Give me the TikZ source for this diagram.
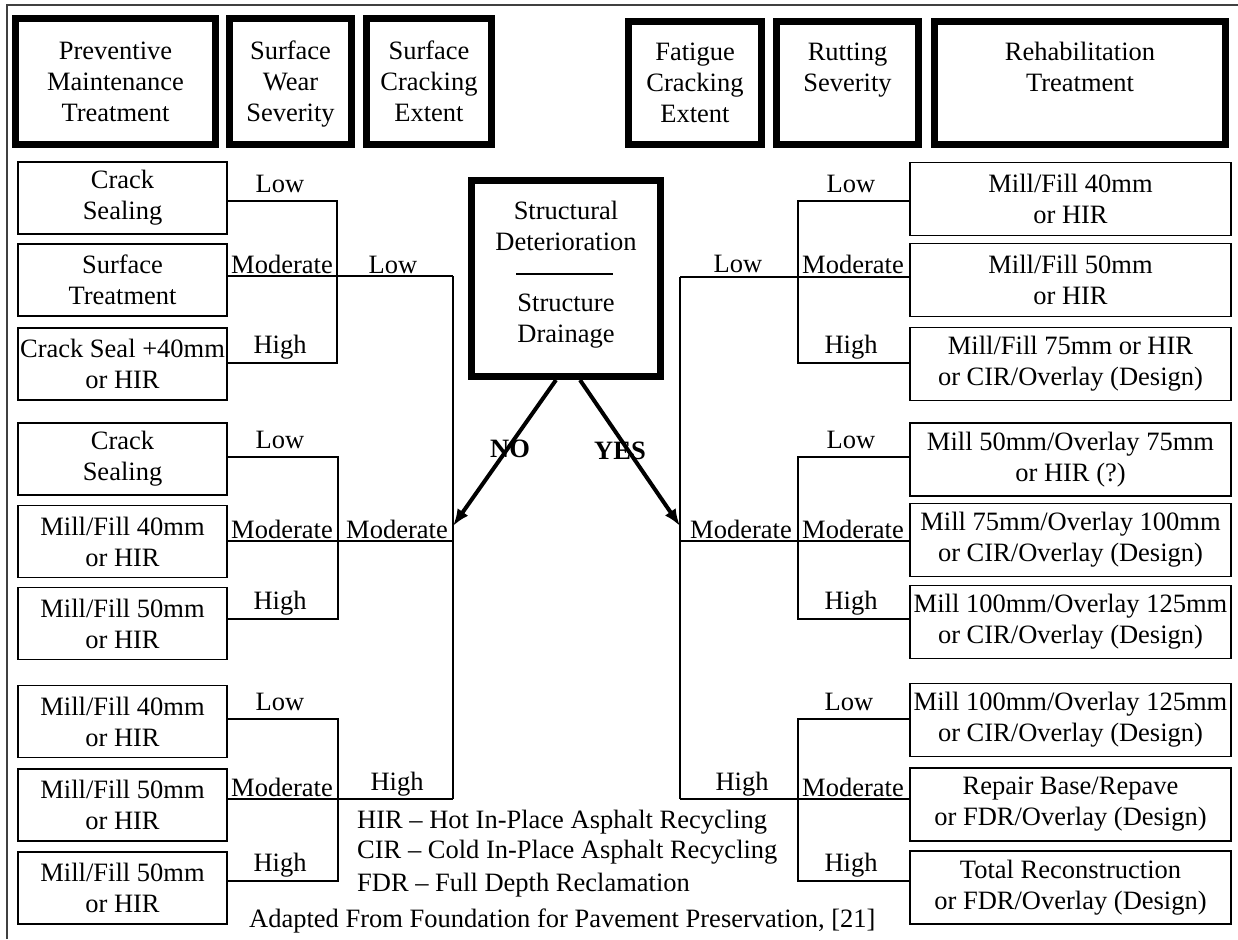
\documentclass[tikz,border=0pt]{standalone}
\usepackage{fontspec}
\setmainfont{Liberation Serif}
\usetikzlibrary{arrows.meta}
\newcommand{\mainsize}{\fontsize{26.5}{31}\selectfont}
\tikzset{
  hdrbox/.style={draw, line width=7pt, inner sep=0pt},
  hdrtext/.style={anchor=north, align=center, inner sep=0pt, font=\mainsize},
  tbox/.style={draw, line width=1.8pt, align=center, inner xsep=1pt, inner ysep=0pt, font=\mainsize},
  lbox/.style={tbox, minimum width=209, minimum height=72},
  rbox/.style={tbox, minimum width=321, minimum height=73},
  lbl/.style={anchor=base, inner sep=0pt, font=\mainsize},
  lgd/.style={anchor=base west, inner sep=0pt, font=\mainsize},
  bl/.style={anchor=base, inner sep=0pt, font=\mainsize\bfseries},
  conn/.style={line width=1.8pt},
  arr/.style={line width=4pt, -{Latex[length=17pt,width=13pt]}},
  border/.style={line width=2pt, black!75},
}
\begin{document}
\begin{tikzpicture}[x=1pt,y=-1pt]
\useasboundingbox (0,0) rectangle (1238,939);
\draw[border] (7,939) -- (7,5) -- (1238,5);

% header boxes
\node[hdrbox, minimum width=200, minimum height=126] (hPM) at (115.5,81.5) {};
\node[hdrtext] (hPMt) at (115.5,37.3) {\strut Preventive\\Maintenance\\Treatment};
\node[hdrbox, minimum width=122, minimum height=126] (hSW) at (290.5,81.5) {};
\node[hdrtext] (hSWt) at (290.5,37.3) {\strut Surface\\Wear\\Severity};
\node[hdrbox, minimum width=125, minimum height=126] (hSC) at (429,81.5) {};
\node[hdrtext] (hSCt) at (429,37.3) {\strut Surface\\Cracking\\Extent};
\node[hdrbox, minimum width=133, minimum height=123] (hFC) at (695,83) {};
\node[hdrtext] (hFCt) at (695,38.8) {\strut Fatigue\\Cracking\\Extent};
\node[hdrbox, minimum width=142, minimum height=123] (hRS) at (847.5,83) {};
\node[hdrtext] (hRSt) at (847.5,38.8) {\strut Rutting\\Severity};
\node[hdrbox, minimum width=291, minimum height=123] (hRT) at (1080,83) {};
\node[hdrtext] (hRTt) at (1080,38.8) {\strut Rehabilitation\\Treatment};

% central box
\node[hdrbox, minimum width=189, minimum height=196] (sd) at (566,278.5) {};
\node[hdrtext] (sdt1) at (566,197.3) {\strut Structural\\Deterioration};
\node[hdrtext] (sdt2) at (566,289.3) {\strut Structure\\Drainage};
\draw[conn] (516,274) -- (613,274);

% left boxes
\node[lbox] (L1a) at (122.5,198) {Crack\\Sealing};
\node[lbox] (L1b) at (122.5,280) {Surface\\Treatment};
\node[lbox] (L1c) at (122.5,364) {Crack Seal +40mm\\or HIR};
\node[lbox] (L2a) at (122.5,459) {Crack\\Sealing};
\node[lbox] (L2b) at (122.5,541.5) {Mill/Fill 40mm\\or HIR};
\node[lbox] (L2c) at (122.5,623.5) {Mill/Fill 50mm\\or HIR};
\node[lbox] (L3a) at (122.5,721.5) {Mill/Fill 40mm\\or HIR};
\node[lbox] (L3b) at (122.5,805) {Mill/Fill 50mm\\or HIR};
\node[lbox] (L3c) at (122.5,888) {Mill/Fill 50mm\\or HIR};

% right boxes
\node[rbox] (R1a) at (1070.5,199) {Mill/Fill 40mm\\or HIR};
\node[rbox] (R1b) at (1070.5,280) {Mill/Fill 50mm\\or HIR};
\node[rbox] (R1c) at (1070.5,364) {Mill/Fill 75mm or HIR\\or CIR/Overlay (Design)};
\node[rbox] (R2a) at (1070.5,459.5) {Mill 50mm/Overlay 75mm\\or HIR (?)};
\node[rbox] (R2b) at (1070.5,540) {Mill 75mm/Overlay 100mm\\or CIR/Overlay (Design)};
\node[rbox] (R2c) at (1070.5,622) {Mill 100mm/Overlay 125mm\\or CIR/Overlay (Design)};
\node[rbox] (R3a) at (1070.5,720) {Mill 100mm/Overlay 125mm\\or CIR/Overlay (Design)};
\node[rbox] (R3b) at (1070.5,804.5) {Repair Base/Repave\\or FDR/Overlay (Design)};
\node[rbox] (R3c) at (1070.5,887.5) {Total Reconstruction\\or FDR/Overlay (Design)};

% junction coordinates
\coordinate (tLtop) at (453,276);
\coordinate (tLmid) at (453,541);
\coordinate (tLbot) at (453,799);
\coordinate (tRtop) at (680,277);
\coordinate (tRmid) at (680,541);
\coordinate (tRbot) at (680,799);
\coordinate (jL1lo) at (337,201); \coordinate (jL1hi) at (337,363);
\coordinate (jL2lo) at (338,457); \coordinate (jL2hi) at (338,619);
\coordinate (jL3lo) at (338,719); \coordinate (jL3hi) at (338,881);
\coordinate (jR1lo) at (798,201); \coordinate (jR1hi) at (798,363);
\coordinate (jR2lo) at (798,457); \coordinate (jR2hi) at (798,619);
\coordinate (jR3lo) at (798,719); \coordinate (jR3hi) at (798,881);
\coordinate (noTip) at (453,526);
\coordinate (yesTip) at (680,526);

% left connectors
\draw[conn] (L1a.east |- jL1lo) -- (jL1lo) -- (jL1hi) -- (L1c.east |- jL1hi);
\draw[conn] (L1b.east |- tLtop) -- (tLtop);
\draw[conn] (L2a.east |- jL2lo) -- (jL2lo) -- (jL2hi) -- (L2c.east |- jL2hi);
\draw[conn] (L2b.east |- tLmid) -- (tLmid);
\draw[conn] (L3a.east |- jL3lo) -- (jL3lo) -- (jL3hi) -- (L3c.east |- jL3hi);
\draw[conn] (L3b.east |- tLbot) -- (tLbot);
\draw[conn] (tLtop) -- (tLbot);

% right connectors
\draw[conn] (R1a.west |- jR1lo) -- (jR1lo) -- (jR1hi) -- (R1c.west |- jR1hi);
\draw[conn] (tRtop) -- (R1b.west |- tRtop);
\draw[conn] (R2a.west |- jR2lo) -- (jR2lo) -- (jR2hi) -- (R2c.west |- jR2hi);
\draw[conn] (tRmid) -- (R2b.west |- tRmid);
\draw[conn] (R3a.west |- jR3lo) -- (jR3lo) -- (jR3hi) -- (R3c.west |- jR3hi);
\draw[conn] (tRbot) -- (R3b.west |- tRbot);
\draw[conn] (tRtop) -- (tRbot);

% left labels
\node[lbl] (l1lo) at (280,192) {Low};
\node[lbl] (l1mo) at (282,273) {Moderate};
\node[lbl] (l1hi) at (280,353) {High};
\node[lbl] (l2lo) at (280,448) {Low};
\node[lbl] (l2mo) at (282,538) {Moderate};
\node[lbl] (l2hi) at (280,609) {High};
\node[lbl] (l3lo) at (280,710) {Low};
\node[lbl] (l3mo) at (282,796) {Moderate};
\node[lbl] (l3hi) at (280,871) {High};
\node[lbl] (lflo) at (393,273) {Low};
\node[lbl] (lfmo) at (397,538) {Moderate};
\node[lbl] (lfhi) at (397,790) {High};

% right labels
\node[lbl] (rflo) at (738,272) {Low};
\node[lbl] (rfmo) at (741,538) {Moderate};
\node[lbl] (rfhi) at (742,790) {High};
\node[lbl] (r1lo) at (851,192) {Low};
\node[lbl] (r1mo) at (853,273) {Moderate};
\node[lbl] (r1hi) at (851,353) {High};
\node[lbl] (r2lo) at (851,448) {Low};
\node[lbl] (r2mo) at (853,538) {Moderate};
\node[lbl] (r2hi) at (851,609) {High};
\node[lbl] (r3lo) at (849,710) {Low};
\node[lbl] (r3mo) at (853,796) {Moderate};
\node[lbl] (r3hi) at (851,871) {High};

% yes / no
\node[bl] (no) at (510,457) {NO};
\node[bl] (yes) at (620,459) {YES};
\draw[arr] ([xshift=-10pt]sd.south) -- (noTip);
\draw[arr] ([xshift=14pt]sd.south) -- (yesTip);

% legend
\node[lgd] (lg1) at (357,828) {HIR – Hot In-Place Asphalt Recycling};
\node[lgd] (lg2) at (357,858) {CIR – Cold In-Place Asphalt Recycling};
\node[lgd] (lg3) at (357,891) {FDR – Full Depth Reclamation};
\node[lgd] (lg4) at (249,927) {Adapted From Foundation for Pavement Preservation, [21]};
\end{tikzpicture}
\end{document}
